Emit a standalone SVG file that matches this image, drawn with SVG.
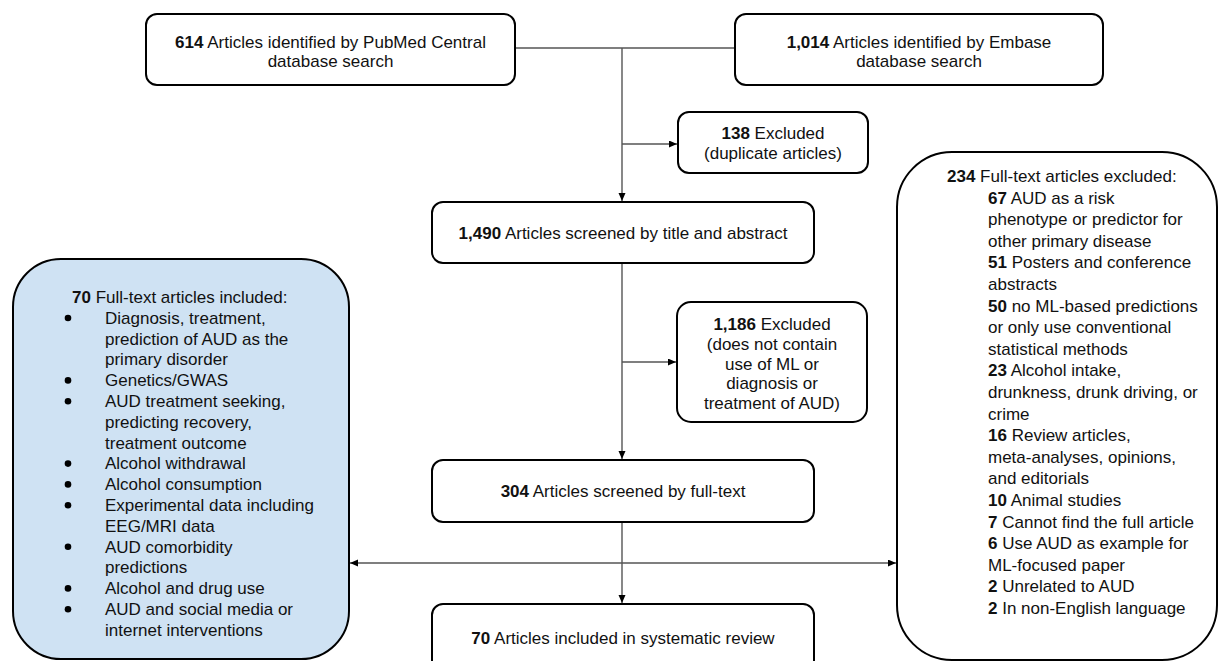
<svg xmlns="http://www.w3.org/2000/svg" width="1218" height="661" viewBox="0 0 1218 661">
<style>
text{font-family:"Liberation Sans",Arial,sans-serif;font-size:17px;fill:#111}
.c{text-anchor:middle}
.b{font-weight:bold}
.box{fill:#fff;stroke:#000;stroke-width:2}
.conn{fill:none;stroke:#555;stroke-width:1.4}
.dot{fill:#000}
</style>
<defs>
<marker id="ah" markerWidth="9" markerHeight="8" refX="8" refY="3.5" orient="auto-start-reverse" markerUnits="userSpaceOnUse">
<path d="M0,0 L8,3.5 L0,7 z" fill="#000"/>
</marker>
</defs>
<rect width="1218" height="661" fill="#fff"/>
<g id="connectors">
<line class="conn" x1="515" y1="48" x2="735" y2="48"/>
<line class="conn" x1="622" y1="48" x2="622" y2="201" marker-end="url(#ah)"/>
<line class="conn" x1="622" y1="144" x2="677" y2="144" marker-end="url(#ah)"/>
<line class="conn" x1="622" y1="263" x2="622" y2="459" marker-end="url(#ah)"/>
<line class="conn" x1="622" y1="362" x2="676" y2="362" marker-end="url(#ah)"/>
<line class="conn" x1="622" y1="522" x2="622" y2="603" marker-end="url(#ah)"/>
<line class="conn" x1="350" y1="563" x2="896" y2="563" marker-start="url(#ah)" marker-end="url(#ah)"/>
</g>
<g id="pubmed">
<rect class="box" x="146" y="14" width="369" height="71" rx="11"/>
<text class="c" x="330.5" y="47.5"><tspan class="b">614</tspan> Articles identified by PubMed Central</text>
<text class="c" x="330.5" y="67">database search</text>
</g>
<g id="embase">
<rect class="box" x="735" y="14" width="368" height="71" rx="11"/>
<text class="c" x="919" y="47.5"><tspan class="b">1,014</tspan> Articles identified by Embase</text>
<text class="c" x="919" y="67">database search</text>
</g>
<g id="excluded-duplicates">
<rect class="box" x="678" y="112" width="190" height="61" rx="11"/>
<text class="c" x="773" y="139"><tspan class="b">138</tspan> Excluded</text>
<text class="c" x="773" y="159">(duplicate articles)</text>
</g>
<g id="screened-title">
<rect class="box" x="432" y="202" width="382" height="61" rx="11"/>
<text class="c" x="623" y="239"><tspan class="b">1,490</tspan> Articles screened by title and abstract</text>
</g>
<g id="excluded-screen">
<rect class="box" x="677" y="302" width="190" height="120" rx="14"/>
<text class="c" x="772" y="330"><tspan class="b">1,186</tspan> Excluded</text>
<text class="c" x="772" y="350">(does not contain</text>
<text class="c" x="772" y="369.5">use of ML or</text>
<text class="c" x="772" y="389">diagnosis or</text>
<text class="c" x="772" y="409">treatment of AUD)</text>
</g>
<g id="screened-fulltext">
<rect class="box" x="432" y="460" width="382" height="62" rx="11"/>
<text class="c" x="623" y="497"><tspan class="b">304</tspan> Articles screened by full-text</text>
</g>
<g id="included-review">
<rect class="box" x="432" y="604" width="382" height="70" rx="11"/>
<text class="c" x="623" y="644"><tspan class="b">70</tspan> Articles included in systematic review</text>
</g>
<g id="included-list">
<rect x="13" y="259" width="336" height="400" rx="48" fill="#cfe2f3" stroke="#000" stroke-width="2"/>
<text x="72" y="303"><tspan class="b">70</tspan> Full-text articles included:</text>
<g>
<circle class="dot" cx="68" cy="318" r="3.3"/>
<circle class="dot" cx="68" cy="380.4" r="3.3"/>
<circle class="dot" cx="68" cy="401.2" r="3.3"/>
<circle class="dot" cx="68" cy="463.6" r="3.3"/>
<circle class="dot" cx="68" cy="484.4" r="3.3"/>
<circle class="dot" cx="68" cy="505.2" r="3.3"/>
<circle class="dot" cx="68" cy="546.8" r="3.3"/>
<circle class="dot" cx="68" cy="588.4" r="3.3"/>
<circle class="dot" cx="68" cy="609.2" r="3.3"/>
</g>
<text x="105" y="323.8">Diagnosis, treatment,</text>
<text x="105" y="344.6">prediction of AUD as the</text>
<text x="105" y="365.4">primary disorder</text>
<text x="105" y="386.2">Genetics/GWAS</text>
<text x="105" y="407">AUD treatment seeking,</text>
<text x="105" y="427.8">predicting recovery,</text>
<text x="105" y="448.6">treatment outcome</text>
<text x="105" y="469.4">Alcohol withdrawal</text>
<text x="105" y="490.2">Alcohol consumption</text>
<text x="105" y="511">Experimental data including</text>
<text x="105" y="531.8">EEG/MRI data</text>
<text x="105" y="552.6">AUD comorbidity</text>
<text x="105" y="573.4">predictions</text>
<text x="105" y="594.2">Alcohol and drug use</text>
<text x="105" y="615">AUD and social media or</text>
<text x="105" y="635.8">internet interventions</text>
</g>
<g id="excluded-list">
<rect x="897" y="152" width="320" height="508" rx="55" fill="#fff" stroke="#000" stroke-width="2"/>
<text x="947" y="182"><tspan class="b">234</tspan> Full-text articles excluded:</text>
<text x="988" y="203.6"><tspan class="b">67</tspan> AUD as a risk</text>
<text x="988" y="225.2">phenotype or predictor for</text>
<text x="988" y="246.8">other primary disease</text>
<text x="988" y="268.4"><tspan class="b">51</tspan> Posters and conference</text>
<text x="988" y="290">abstracts</text>
<text x="988" y="311.6"><tspan class="b">50</tspan> no ML-based predictions</text>
<text x="988" y="333.2">or only use conventional</text>
<text x="988" y="354.8">statistical methods</text>
<text x="988" y="376.4"><tspan class="b">23</tspan> Alcohol intake,</text>
<text x="988" y="398">drunkness, drunk driving, or</text>
<text x="988" y="419.6">crime</text>
<text x="988" y="441.2"><tspan class="b">16</tspan> Review articles,</text>
<text x="988" y="462.8">meta-analyses, opinions,</text>
<text x="988" y="484.4">and editorials</text>
<text x="988" y="506"><tspan class="b">10</tspan> Animal studies</text>
<text x="988" y="527.6"><tspan class="b">7</tspan> Cannot find the full article</text>
<text x="988" y="549.2"><tspan class="b">6</tspan> Use AUD as example for</text>
<text x="988" y="570.8">ML-focused paper</text>
<text x="988" y="592.4"><tspan class="b">2</tspan> Unrelated to AUD</text>
<text x="988" y="614"><tspan class="b">2</tspan> In non-English language</text>
</g>
</svg>
